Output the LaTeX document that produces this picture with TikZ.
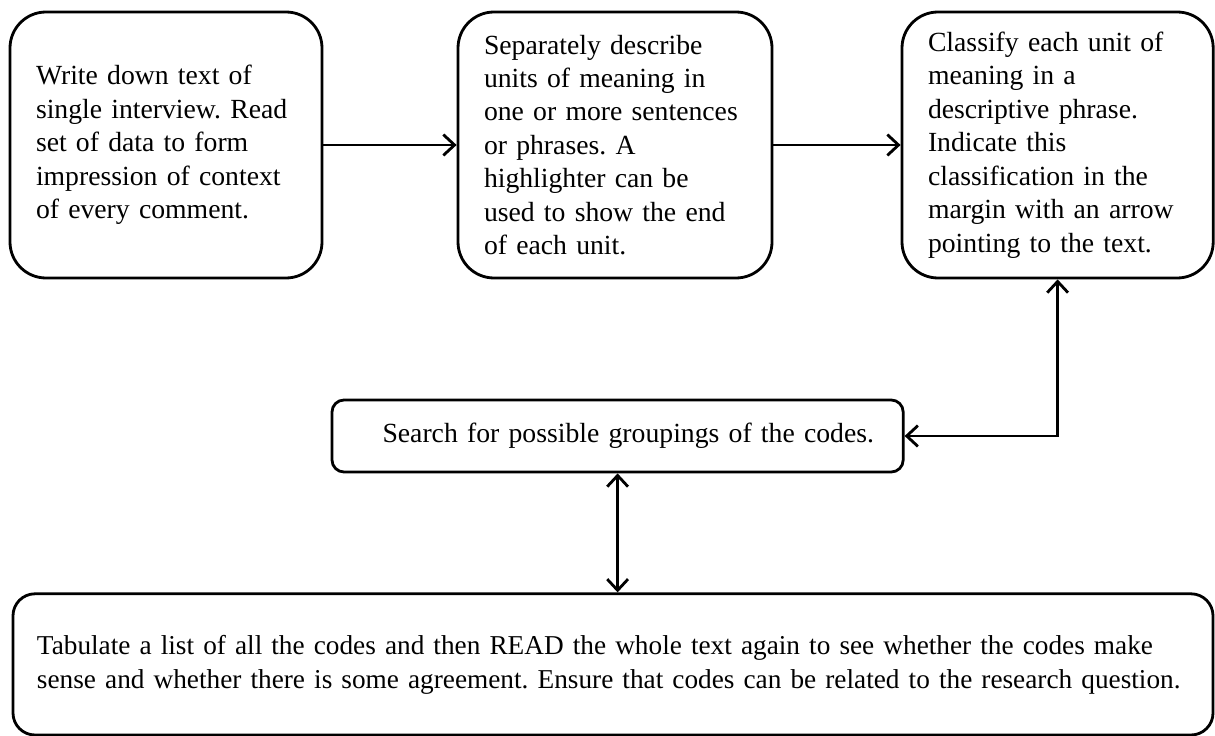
\documentclass[tikz,border=0pt]{standalone}
\usepackage{fontspec}
\setmainfont{Liberation Serif}
\usetikzlibrary{arrows.meta}
\frenchspacing

\begin{document}
\begin{tikzpicture}[
    stage/.style={draw, line width=2pt, rounded corners=0.9cm, align=left,
      font=\fontsize{19.7}{23.8}\selectfont, minimum height=6.65cm, inner sep=0pt},
    >={Straight Barb[length=2.8mm, width=5.2mm, line width=2pt]},
    flow/.style={line width=2pt, ->},
    both/.style={line width=2pt, <->}
  ]
    \useasboundingbox (0,0) rectangle (30.375,-18.4);

    \node[stage, minimum width=7.8cm, text width=6.5cm] (write) at (4.15,-3.625)
      {Write down text of\\ single interview. Read\\ set of data to form\\ impression of context\\ of every comment.};
    \node[stage, minimum width=7.85cm, text width=6.55cm] (units) at (15.375,-3.625)
      {Separately describe\\ units of meaning in\\ one or more sentences\\ or phrases. A\\ highlighter can be\\ used to show the end\\ of each unit.};
    \node[stage, minimum width=7.78cm, text width=6.48cm] (classify) at (26.44,-3.625)
      {Classify each unit of\\ meaning in a\\ descriptive phrase.\\ Indicate this\\ classification in the\\ margin with an arrow\\ pointing to the text.};

    \node[stage, rounded corners=0.3cm, minimum width=14.28cm, minimum height=1.8cm,
      text width=12.82cm, align=right] (search) at (15.44,-10.9)
      {Search for possible groupings of the codes.};
    \node[stage, rounded corners=0.55cm, minimum width=30cm, minimum height=3.53cm,
      text width=28.8cm, font=\fontsize{19.4}{24.2}\selectfont] (tabulate) at (15.325,-16.61)
      {Tabulate a list of all the codes and then READ the whole text again to see whether the codes make\\ sense and whether there is some agreement. Ensure that codes can be related to the research question.};

    \draw[flow] (write) -- (units);
    \draw[flow] (units) -- (classify);
    \draw[both] (classify.south) |- (search.east);
    \draw[both] (search.south) -- (search.south |- tabulate.north);
  \end{tikzpicture}
\end{document}
